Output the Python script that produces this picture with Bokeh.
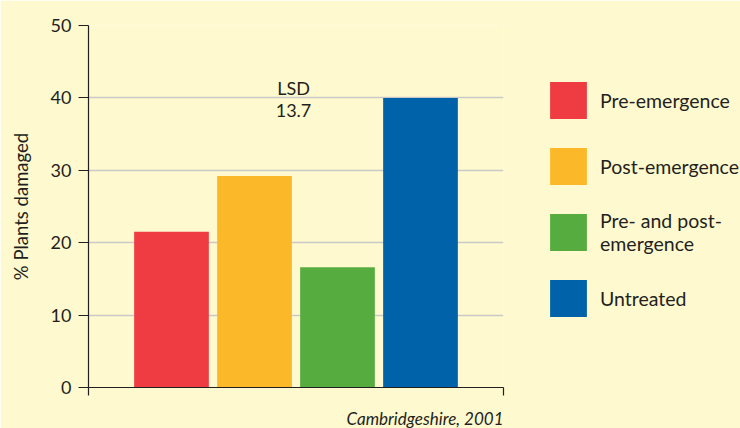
from bokeh.plotting import figure
from bokeh.models import Range1d, FixedTicker, Legend, LegendItem, Label, Title, ColumnDataSource
from bokeh.embed import file_html
from bokeh.resources import INLINE

# ---- data ----
categories = ["Pre-emergence", "Post-emergence", "Pre- and post-\nemergence", "Untreated"]
damaged = [21.5, 29.2, 16.6, 40.0]
colors = ["#EF3B42", "#FBB829", "#57AC40", "#0062A9"]
y_ticks = [0, 10, 20, 30, 40, 50]
lsd_title = "LSD"
lsd_value = 13.7
caption = "Cambridgeshire, 2001"
y_label = "% Plants damaged"

BG = "#FEF9CE"
TXT = "#231F20"
FONT = "Lato"

positions = list(range(1, len(categories) + 1))
x_end = len(categories) + 1
src = ColumnDataSource(dict(x=positions, top=damaged, color=colors, label=categories))

p = figure(frame_width=415, frame_height=362,
           min_border_left=88, min_border_right=237, min_border_top=25, min_border_bottom=41,
           output_backend="svg", toolbar_location=None,
           x_range=Range1d(0, x_end), y_range=Range1d(0, 50))

p.background_fill_color = BG
p.border_fill_color = BG
p.outline_line_color = None

r = p.vbar(x="x", top="top", width=0.9, bottom=0, color="color", line_color=None, source=src)

# y axis
p.yaxis.ticker = FixedTicker(ticks=y_ticks)
p.yaxis.major_tick_out = 10
p.yaxis.major_tick_in = 0
p.yaxis.minor_tick_line_color = None
p.yaxis.major_label_standoff = 7
p.yaxis.major_label_text_font = FONT
p.yaxis.major_label_text_font_size = "18px"
p.yaxis.major_label_text_color = TXT
p.yaxis.axis_line_color = TXT
p.yaxis.axis_line_width = 1.2
p.yaxis.major_tick_line_color = TXT
p.yaxis.major_tick_line_width = 1.2
p.yaxis.axis_label = y_label
p.yaxis.axis_label_text_font = FONT
p.yaxis.axis_label_text_font_size = "18.5px"
p.yaxis.axis_label_text_font_style = "normal"
p.yaxis.axis_label_text_color = TXT
p.yaxis.axis_label_standoff = 16

# x axis: only end ticks
p.xaxis.ticker = FixedTicker(ticks=[0, x_end])
p.xaxis.major_label_overrides = {0: " ", x_end: " "}
p.xaxis.major_label_text_font_size = "7px"
p.xaxis.major_label_standoff = 0
p.xaxis.major_tick_out = 8
p.xaxis.major_tick_in = 0
p.xaxis.minor_tick_line_color = None
p.xaxis.axis_line_color = TXT
p.xaxis.axis_line_width = 1.2
p.xaxis.major_tick_line_color = TXT
p.xaxis.major_tick_line_width = 1.2

p.xgrid.grid_line_color = None
p.ygrid.grid_line_color = "#C9C9C9"
p.ygrid.grid_line_width = 1.5

# LSD annotation
p.add_layout(Label(x=2.47, y=41.4, text=lsd_title, text_align="center", text_baseline="middle",
                   text_font=FONT, text_font_size="18px", text_color=TXT))
p.add_layout(Label(x=2.47, y=38.2, text=f"{lsd_value}", text_align="center", text_baseline="middle",
                   text_font=FONT, text_font_size="18px", text_color=TXT))

# caption (as a title below the plot, right-aligned)
p.add_layout(Title(text=caption, align="right", text_font=FONT, text_font_size="17px",
                   text_font_style="italic", text_color=TXT, standoff=0, offset=0), "below")

# legend
items = [LegendItem(label=c, renderers=[r], index=i) for i, c in enumerate(categories)]
legend = Legend(items=items, location=(42, 66), orientation="vertical",
                glyph_width=46, glyph_height=46, spacing=20, label_standoff=9,
                margin=0, padding=0, border_line_color=None, background_fill_alpha=0,
                label_text_font=FONT, label_text_font_size="19.5px", label_text_color=TXT)
p.add_layout(legend, "right")

html = file_html(p, INLINE)
open("out.html", "w").write(html)
